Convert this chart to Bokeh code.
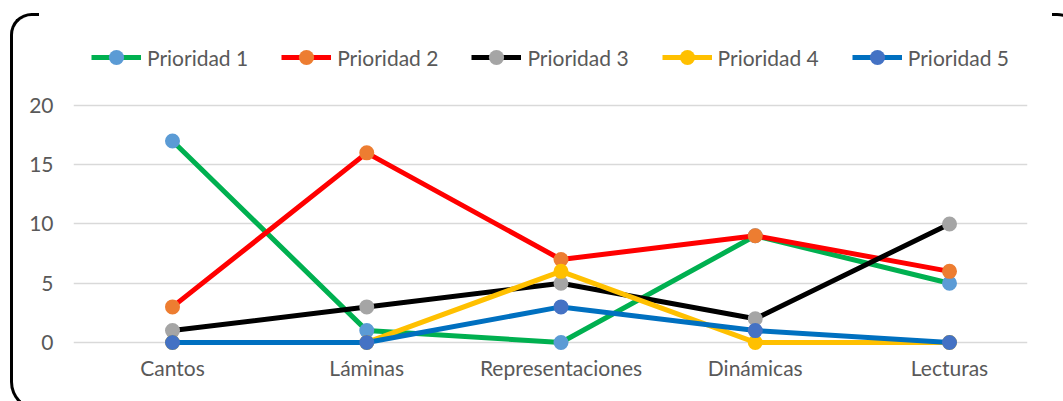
from bokeh.plotting import figure
from bokeh.models import FixedTicker, Legend, LegendItem, InlineStyleSheet
from bokeh.embed import file_html
from bokeh.resources import INLINE

categories = ["Cantos", "Láminas", "Representaciones", "Dinámicas", "Lecturas"]
series_names = ["Prioridad 1", "Prioridad 2", "Prioridad 3", "Prioridad 4", "Prioridad 5"]
prioridad_1 = [17, 1, 0, 9, 5]
prioridad_2 = [3, 16, 7, 9, 6]
prioridad_3 = [1, 3, 5, 2, 10]
prioridad_4 = [0, 0, 6, 0, 0]
prioridad_5 = [0, 0, 3, 1, 0]
y_ticks = [0, 5, 10, 15, 20]

series_values = [prioridad_1, prioridad_2, prioridad_3, prioridad_4, prioridad_5]
line_colors = ["#00B050", "#FF0000", "#000000", "#FFC000", "#0070C0"]
marker_colors = ["#5B9BD5", "#ED7D31", "#A5A5A5", "#FFC000", "#4472C4"]

FONT = "Lato"
TEXT = "#595959"

x = list(range(len(categories)))

p = figure(width=1063, height=401, output_backend="svg", toolbar_location=None,
           x_range=(-0.5097, 4.4015), y_range=(-0.68, 26.75),
           min_border_left=73, min_border_right=36, min_border_top=25,
           min_border_bottom=51)
p.outline_line_color = None
p.background_fill_color = "white"
p.border_fill_color = "white"

# axes
p.xaxis.ticker = FixedTicker(ticks=x)
p.xaxis.major_label_overrides = {i: c for i, c in enumerate(categories)}
p.yaxis.ticker = FixedTicker(ticks=y_ticks)
for ax in (p.xaxis[0], p.yaxis[0]):
    ax.axis_line_color = None
    ax.major_tick_line_color = None
    ax.minor_tick_line_color = None
    ax.major_tick_out = 0
    ax.major_tick_in = 0
    ax.major_label_text_font = FONT
    ax.major_label_text_font_size = "21px"
    ax.major_label_text_color = TEXT
p.xaxis.major_label_standoff = 4
p.yaxis.major_label_standoff = 20

p.xgrid.grid_line_color = None
p.ygrid.ticker = FixedTicker(ticks=y_ticks)
p.ygrid.grid_line_color = "#D9D9D9"
p.ygrid.grid_line_width = 1.5

items = []
for name, vals, lc, mc in zip(series_names, series_values, line_colors, marker_colors):
    r_line = p.line(x, vals, line_color=lc, line_width=5, line_join="round")
    r_mark = p.scatter(x, vals, size=15, fill_color=mc, line_color=mc, line_width=0)
    items.append(LegendItem(label=name, renderers=[r_line, r_mark]))

legend = Legend(items=items, orientation="horizontal", location="top_center",
                glyph_width=50, glyph_height=38, label_standoff=6, spacing=33,
                padding=0, margin=13, border_line_color=None,
                background_fill_alpha=0, label_text_font=FONT,
                label_text_font_size="21px", label_text_color=TEXT)
p.add_layout(legend)

# rounded chart-border fragments drawn around the canvas with CSS
border_css = """
:host { position: relative; }
:host::before {
  content: ""; position: absolute; pointer-events: none; z-index: 10;
  left: 10px; top: 13px; width: 26px; height: 392px;
  border-left: 3.5px solid #000; border-top: 3.5px solid #000;
  border-bottom: 3.5px solid #000;
  border-top-left-radius: 24px 24px; border-bottom-left-radius: 32px 32px;
}
:host::after {
  content: ""; position: absolute; pointer-events: none; z-index: 10;
  left: 1052px; top: 13px; width: 26px; height: 40px;
  border-top: 3.5px solid #000; border-right: 3.5px solid #000;
  border-top-right-radius: 24px 24px;
}
"""
p.stylesheets = [InlineStyleSheet(css=border_css)]

open("out.html", "w").write(file_html(p, INLINE))
